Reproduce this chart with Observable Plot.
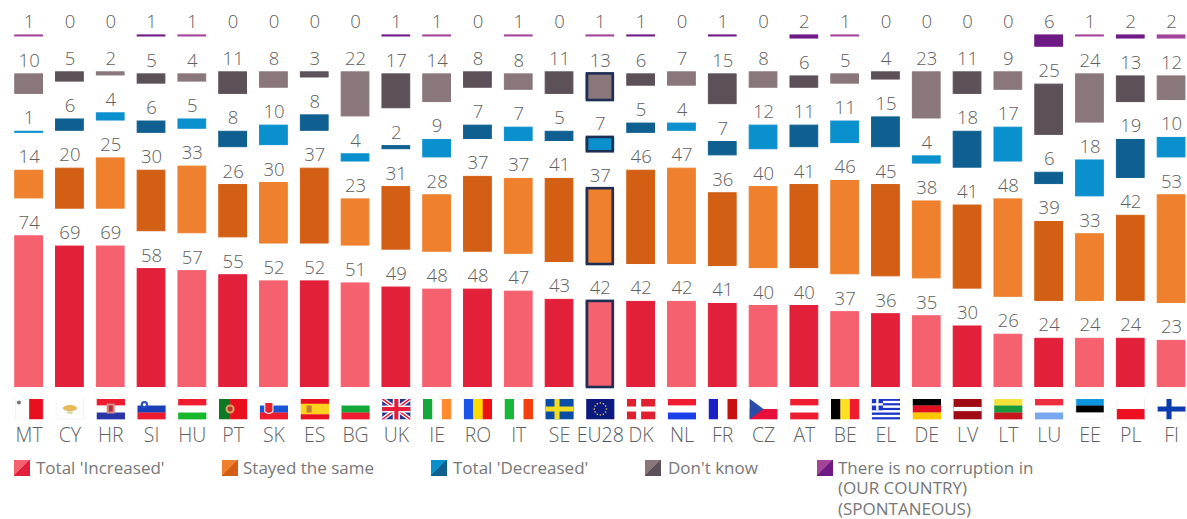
<!DOCTYPE html>
<html><head><meta charset="utf-8">
<script src="https://cdn.jsdelivr.net/npm/d3@7"></script>
<script src="https://cdn.jsdelivr.net/npm/@observablehq/plot@0.6"></script>
<style>
html,body{margin:0;padding:0;background:#fff;overflow:hidden}
#legend{position:relative;width:1187px;height:64px;font-family:"Open Sans",sans-serif;font-size:17px;line-height:20.5px;color:#777}
.it{position:absolute;top:2.5px;white-space:pre}
.sw{position:absolute;top:5px;width:16px;height:16px}
svg{display:block}
</style></head><body>
<div id="chart"></div><div id="legend"></div>
<script>
const countries = ["MT","CY","HR","SI","HU","PT","SK","ES","BG","UK","IE","RO","IT","SE","EU28","DK","NL","FR","CZ","AT","BE","EL","DE","LV","LT","LU","EE","PL","FI"];
const increased =    [74,69,69,58,57,55,52,52,51,49,48,48,47,43,42,42,42,41,40,40,37,36,35,30,26,24,24,24,23];
const stayed =       [14,20,25,30,33,26,30,37,23,31,28,37,37,41,37,46,47,36,40,41,46,45,38,41,48,39,33,42,53];
const decreased =    [ 1, 6, 4, 6, 5, 8,10, 8, 4, 2, 9, 7, 7, 5, 7, 5, 4, 7,12,11,11,15, 4,18,17, 6,18,19,10];
const dontKnow =     [10, 5, 2, 5, 4,11, 8, 3,22,17,14, 8, 8,11,13, 6, 7,15, 8, 6, 5, 4,23,11, 9,25,24,13,12];
const noCorruption = [ 1, 0, 0, 1, 1, 0, 0, 0, 0, 1, 1, 0, 1, 0, 1, 1, 0, 1, 0, 2, 1, 0, 0, 0, 0, 6, 1, 2, 2];
const seriesLabels = ["Total 'Increased'","Stayed the same","Total 'Decreased'","Don't know","There is no corruption in\n(OUR COUNTRY)\n(SPONTANEOUS)"];
const lightColors = ["#F6616F","#EE802E","#0B90CE","#8A777B","#A2449A"];
const darkColors  = ["#E2203A","#D35F14","#0F6090","#5C5159","#6E1A85"];
const series = [increased,stayed,decreased,dontKnow,noCorruption];
const gap = 18;

// flag artwork on a 28x21 canvas
const bar = (x,y,w,h,c)=>`<rect x="${x}" y="${y}" width="${w}" height="${h}" fill="${c}"/>`;
const H = (...c)=>c.map((k,i)=>bar(0,i*21/c.length,28,21/c.length+.2,k)).join("");
const V = (...c)=>c.map((k,i)=>bar(i*28/c.length,0,28/c.length+.2,21,k)).join("");
const cross=(bg,c,x=9)=>bar(0,0,28,21,bg)+bar(x,0,5,21,c)+bar(0,8,28,5,c);
const edge=`<rect x=".25" y=".25" width="27.5" height="20.5" fill="none" stroke="#ddd" stroke-width=".5"/>`;
const ring=[...Array(12).keys()].map(i=>`<circle cx="${14+6*Math.sin(i*Math.PI/6)}" cy="${10.5+6*Math.cos(i*Math.PI/6)}" r=".8" fill="#e8d44a"/>`).join("");
const flags = {
 MT:V("#fff","#E8101E")+`<circle cx="4" cy="4" r="2" fill="#777"/>`+edge,
 CY:bar(0,0,28,21,"#fff")+`<ellipse cx="14" cy="9.5" rx="7" ry="3" fill="#E8B85A"/><ellipse cx="14" cy="14" rx="3" ry="1.2" fill="#C9D7A0"/>`+edge,
 HR:H("#EE1C2E","#fff","#2A35A8")+`<rect x="10" y="5" width="8" height="10" fill="#D98A8A"/><rect x="12" y="7" width="4" height="6" fill="#a33"/>`,
 SI:H("#fff","#1A3EB8","#EE1C2E")+`<circle cx="7" cy="6" r="3.6" fill="#2A4EC0"/><circle cx="7" cy="6" r="1.5" fill="#fff"/>`,
 HU:H("#EE1C2E","#fff","#16B82A"),
 PT:bar(0,0,11,21,"#0C7A22")+bar(11,0,17,21,"#E8101E")+`<circle cx="11" cy="10.5" r="4.5" fill="#D8A060"/><circle cx="11" cy="10.5" r="2.4" fill="#b33"/>`,
 SK:H("#fff","#1A55D8","#EE1C2E")+`<path d="M5 4h8v9q-4 4-8 0z" fill="#E8202E" stroke="#fff"/>`,
 ES:H("#E8101E","#FFD21E","#FFD21E","#E8101E")+`<rect x="6" y="7" width="5" height="7" fill="#C47A30"/>`,
 BG:H("#fff","#13A83A","#EE1C2E"),
 UK:bar(0,0,28,21,"#26358C")+`<path d="M0 0L28 21M28 0L0 21" stroke="#fff" stroke-width="4"/><path d="M0 0L28 21M28 0L0 21" stroke="#E81C3A" stroke-width="1.5"/>`+bar(0,7,28,7,"#fff")+bar(10.5,0,7,21,"#fff")+bar(0,8.5,28,4,"#E81C3A")+bar(12,0,4,21,"#E81C3A"),
 IE:V("#16A83A","#fff","#FF8B2E"),
 RO:V("#1A55E8","#FFD800","#EE1010"),
 IT:V("#16B83A","#fff","#F4400F"),
 SE:cross("#0A4DA8","#F0DC20"),
 EU28:bar(0,0,28,21,"#0C1A80")+ring,
 DK:cross("#E0202E","#fff"),
 NL:H("#EE1C2E","#fff","#1A3EE8"),
 FR:V("#1A1FC8","#fff","#C81010"),
 CZ:H("#fff","#E8103A")+`<path d="M0 0L14 10.5L0 21z" fill="#2A4EA8"/>`+edge,
 AT:H("#EE1C2E","#fff","#EE1C2E"),
 BE:V("#000","#FFE020","#EE1C2E"),
 EL:H("#1A35C8","#fff","#1A35C8","#fff","#1A35C8","#fff","#1A35C8","#fff","#1A35C8")+bar(0,0,11,11.7,"#1A35C8")+bar(4.4,0,2.3,11.7,"#fff")+bar(0,4.7,11,2.3,"#fff"),
 DE:H("#000","#E01020","#FFC800"),
 LV:bar(0,0,28,21,"#A00A12")+bar(0,8.4,28,4.2,"#fff"),
 LT:H("#F2E23A","#1A9A3A","#C8161E"),
 LU:H("#EE2E3E","#fff","#78A8F0"),
 EE:H("#0C96E0","#000","#fff")+edge,
 PL:H("#fff","#EE1020")+edge,
 FI:cross("#fff","#0A3CB0")+edge
};
const flagSrc = c => "data:image/svg+xml;charset=utf-8,"+encodeURIComponent(
 `<svg xmlns="http://www.w3.org/2000/svg" viewBox="0 0 28 21" preserveAspectRatio="none">${flags[c]}</svg>`);

// one row per country and series; the series are stacked with a constant gap
const rows = countries.flatMap((code,i)=>{
  let base = 0;
  return series.map((values,s)=>{
    const row = {code,value:values[i],y1:base,y2:base+values[i],
      color:(i%2?darkColors:lightColors)[s]};
    base = row.y2 + gap;
    return row;
  });
});
const eu = rows.filter(d=>d.code==="EU28" && d.value>1);
const flagLevel = -10.5, codeLevel = -23.5;

const plot = Plot.plot({
  width:1187, height:455, margin:0,
  x:{type:"band",domain:countries,range:[1.7,1198],padding:.32,round:false,axis:null},
  y:{domain:[0,188.8],range:[387,0],axis:null},
  style:{background:"#fff"},
  marks:[
    Plot.barY(rows,{x:"code",y1:"y1",y2:"y2",fill:"color",stroke:"color",strokeWidth:1,insetTop:.5,insetBottom:.5}),
    Plot.barY(eu,{x:"code",y1:"y1",y2:"y2",fill:"none",stroke:"#1F2E55",strokeWidth:2.6,insetLeft:1,insetRight:1,insetTop:0,insetBottom:0}),
    Plot.text(rows,{x:"code",y:"y2",text:d=>String(d.value),dy:-7,lineAnchor:"bottom",fill:"#606060",fontSize:18.5,fontFamily:"Open Sans",fontWeight:300}),
    Plot.image(countries,{x:d=>d,y:()=>flagLevel,src:flagSrc,width:28.5,height:21,preserveAspectRatio:"none"}),
    Plot.text(countries,{x:d=>d,y:()=>codeLevel,text:d=>d,fill:d=>d==="EU28"?"#47566b":"#606060",fontSize:19.5,fontFamily:"Open Sans",fontWeight:300,lineAnchor:"middle"})
  ]
});
document.getElementById("chart").append(plot);

const swatchX = [14,222,431,645,817], textX = [36,243,453,668,838];
const legend = document.getElementById("legend");
seriesLabels.forEach((t,i)=>{
  const s=document.createElement("div"); s.className="sw"; s.style.left=swatchX[i]+"px";
  s.style.background=`linear-gradient(135deg,${lightColors[i]} 50%,${darkColors[i]} 50%)`;
  const l=document.createElement("div"); l.className="it"; l.style.left=textX[i]+"px"; l.textContent=t;
  legend.append(s,l);
});
</script></body></html>
